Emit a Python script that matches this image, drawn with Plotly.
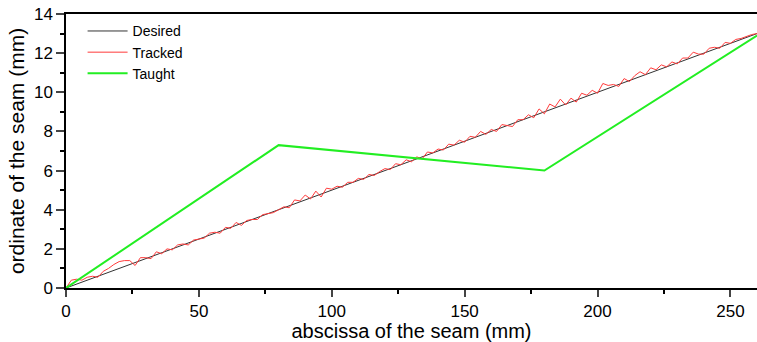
import plotly.graph_objects as go

desired_x = [0, 260]
desired_y = [0, 13]

tracked_x = list(range(0, 262, 2))
tracked_y = [0.0, 0.40, 0.45, 0.40, 0.55, 0.60, 0.55, 0.85, 1.00, 1.20, 1.35, 1.40, 1.40, 1.15, 1.55, 1.55,
             1.50, 1.85, 1.75, 2.00, 1.95, 2.20, 2.25, 2.20, 2.45, 2.50, 2.55, 2.80, 2.85, 2.80, 3.10, 3.05,
             3.35, 3.20, 3.45, 3.50, 3.50, 3.75, 3.80, 3.85, 4.00, 4.15, 4.10, 4.50, 4.45, 4.75, 4.55, 4.95,
             4.65, 5.10, 5.05, 5.20, 5.15, 5.40, 5.40, 5.60, 5.55, 5.80, 5.75, 5.95, 6.10, 6.05, 6.35, 6.30,
             6.55, 6.45, 6.70, 6.60, 6.95, 6.90, 7.10, 7.05, 7.35, 7.30, 7.55, 7.45, 7.75, 7.70, 8.00, 7.85,
             8.10, 8.00, 8.35, 8.30, 8.25, 8.60, 8.60, 8.85, 8.70, 9.15, 8.90, 9.40, 9.25, 9.65, 9.35, 9.70,
             9.50, 9.95, 9.85, 10.10, 9.95, 10.45, 10.35, 10.40, 10.30, 10.70, 10.55, 10.85, 11.05, 10.90,
             11.25, 11.15, 11.40, 11.30, 11.55, 11.45, 11.75, 11.75, 12.05, 11.95, 11.95, 12.25, 12.30,
             12.25, 12.55, 12.50, 12.70, 12.75, 12.85, 12.95, 13.00]

taught_x = [0, 80, 180, 260]
taught_y = [0, 7.3, 6.0, 12.9]

x_ticks = [0, 50, 100, 150, 200, 250]
y_ticks = [0, 2, 4, 6, 8, 10, 12, 14]

font = "Liberation Sans, Arial, sans-serif"

fig = go.Figure()
fig.add_trace(go.Scatter(x=desired_x, y=desired_y, mode="lines", name="Desired",
                         line=dict(color="#333333", width=1)))
fig.add_trace(go.Scatter(x=tracked_x, y=tracked_y, mode="lines", name="Tracked",
                         line=dict(color="#ff3a3a", width=1)))
fig.add_trace(go.Scatter(x=taught_x, y=taught_y, mode="lines", name="Taught",
                         line=dict(color="#22ee22", width=2)))

fig.update_layout(
    width=757, height=342,
    margin=dict(l=66, r=0, t=14, b=54, autoexpand=False),
    plot_bgcolor="white", paper_bgcolor="white",
    font=dict(family=font, color="black", size=17),
    showlegend=True,
    legend=dict(x=0.024, y=0.995, xanchor="left", yanchor="top", bgcolor="rgba(0,0,0,0)",
                font=dict(size=14), tracegroupgap=0, itemwidth=40),
    xaxis=dict(range=[0, 260], tickvals=x_ticks, ticks="outside", ticklen=7, tickwidth=1.5,
               showline=True, linecolor="black", linewidth=1.5, mirror=True,
               showgrid=False, zeroline=False, automargin=False, ticklabeloverflow="allow",
               minor=dict(dtick=25, tick0=0, ticks="outside", ticklen=4, tickcolor="black"),
               title=dict(text="abscissa of the seam (mm)", font=dict(size=20), standoff=2)),
    yaxis=dict(range=[0, 14], tickvals=y_ticks, ticks="outside", ticklen=8, tickwidth=1.5,
               showline=True, linecolor="black", linewidth=1.5,
               showgrid=False, zeroline=False, automargin=False, ticklabeloverflow="allow",
               minor=dict(dtick=1, tick0=0, ticks="outside", ticklen=4, tickcolor="black"),
               title=dict(text="ordinate of the seam (mm)", font=dict(size=21), standoff=4)),
)

fig.write_html("out.html", config={"displayModeBar": False},
               post_script="document.body.style.margin='0';document.body.style.overflow='hidden';")
